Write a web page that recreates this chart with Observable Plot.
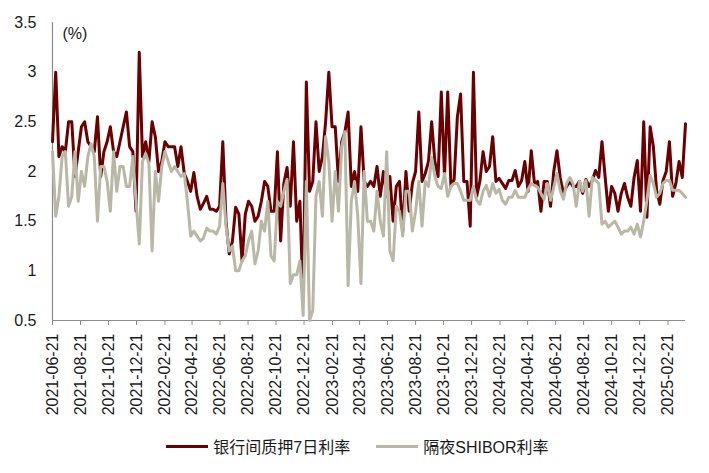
<!DOCTYPE html>
<html><head><meta charset="utf-8">
<script src="https://cdn.jsdelivr.net/npm/d3@7"></script>
<script src="https://cdn.jsdelivr.net/npm/@observablehq/plot@0.6"></script>
<style>
body{margin:0;background:#fff;font-family:"Liberation Sans",Arial,"Noto Sans CJK SC",sans-serif;}
#chart{width:709px;height:473px;position:relative;overflow:hidden}
#chart svg{display:block}
.legend{display:flex;justify-content:center;align-items:center;gap:26px;font-size:16px;color:#1a1a1a;height:36px;margin-top:0px;padding-left:6px}
.legend .item{display:flex;align-items:center;gap:5px}
.legend .sw{display:inline-block;width:42px;height:3px}
</style></head>
<body><div id="chart"></div>
<script>
const seriesNames = ["银行间质押7日利率", "隔夜SHIBOR利率"];
const seriesColors = ["#6a0000", "#b9b8a7"];
const startDate = "2021-06-21";
const endDate = "2025-03-31";
const unitLabel = "(%)";
const yTicks = [0.5, 1, 1.5, 2, 2.5, 3, 3.5];
const xTickLabels = ["2021-06-21","2021-08-21","2021-10-21","2021-12-21","2022-02-21","2022-04-21","2022-06-21","2022-08-21","2022-10-21","2022-12-21","2023-02-21","2023-04-21","2023-06-21","2023-08-21","2023-10-21","2023-12-21","2024-02-21","2024-04-21","2024-06-21","2024-08-21","2024-10-21","2024-12-21","2025-02-21"];

// weekly readings (Mondays from 2021-06-21)
const repo7 = [
2.3,3.0,2.15,2.25,2.2,2.5,2.5,1.95,2.2,2.45,
2.5,2.3,2.25,2.2,2.55,1.95,2.2,2.3,2.45,2.2,
2.15,2.3,2.45,2.6,2.25,2.2,1.6,3.2,2.15,2.3,
2.1,2.5,2.35,2.0,2.1,2.3,2.25,2.25,2.25,2.05,
2.25,1.98,1.9,1.8,1.99,1.75,1.62,1.68,1.75,1.62,
1.62,1.6,1.65,2.3,1.5,1.17,1.3,1.64,1.57,1.1,
1.57,1.7,1.65,1.5,1.55,1.7,1.9,1.85,1.6,1.6,
2.2,1.3,1.88,2.04,1.65,2.3,1.5,1.7,0.7,2.9,
1.8,1.9,2.5,2.0,2.15,2.5,3.0,2.45,2.45,1.9,
2.3,2.4,2.6,1.85,2.0,1.8,2.45,1.9,1.85,1.9,
1.85,2.05,1.75,2.0,1.75,1.95,1.5,1.85,1.9,1.4,
2.0,1.6,1.88,2.0,2.6,1.9,1.98,2.1,2.5,2.1,
1.95,2.8,1.95,2.8,1.85,1.92,2.55,2.78,1.9,1.9,
1.45,3.0,1.75,1.9,2.2,2.0,2.05,2.35,1.9,1.93,
1.88,1.83,1.91,1.91,2.01,1.85,1.91,2.1,1.8,2.21,
1.88,1.9,1.6,1.9,1.9,1.65,2.0,2.21,1.94,1.78,
1.85,1.9,1.85,1.85,1.9,1.78,1.92,1.85,1.91,2.01,
1.94,2.3,1.94,1.6,1.85,1.78,1.6,1.78,1.88,1.74,
1.65,1.94,2.11,1.6,2.5,1.54,2.45,2.25,1.81,1.67,
1.91,2.0,2.3,1.75,1.88,2.1,1.94,2.48
];
const shibor = [
2.2,1.55,1.75,2.15,2.2,1.65,1.75,2.2,1.7,2.0,
1.85,2.15,2.28,2.15,1.5,2.05,2.05,1.9,1.6,2.2,
1.8,2.05,2.05,1.85,1.85,2.15,1.7,1.27,2.1,2.18,
2.08,1.2,2.0,1.7,2.05,2.2,2.1,2.0,2.05,2.0,
1.95,1.98,1.7,1.35,1.4,1.35,1.3,1.33,1.43,1.4,
1.4,1.37,1.45,1.88,1.45,1.2,1.25,1.0,1.0,1.1,
1.15,1.3,1.4,1.07,1.2,1.5,1.4,1.7,1.15,1.1,
1.7,1.65,1.8,1.92,0.87,0.96,0.96,1.1,0.55,1.9,
0.5,0.6,1.75,1.9,1.55,2.35,2.1,1.5,2.0,1.6,
2.25,2.4,0.85,1.7,1.9,1.55,0.87,2.0,1.5,1.5,
1.4,1.8,1.5,1.35,2.2,1.2,1.1,1.65,1.6,1.35,
1.8,1.8,1.4,1.6,1.9,1.45,1.9,1.85,2.14,1.95,
1.85,1.83,1.98,1.75,1.85,1.88,1.88,1.8,1.71,1.71,
1.71,1.85,1.71,1.67,1.8,1.86,1.75,1.88,1.78,1.82,
1.71,1.67,1.74,1.74,1.81,1.74,1.74,1.74,1.82,1.88,
1.86,1.84,1.78,1.72,1.88,1.71,1.84,1.98,1.81,1.72,
1.88,1.94,1.88,1.65,1.9,1.8,1.91,1.55,1.94,1.91,
1.88,1.47,1.5,1.44,1.47,1.5,1.44,1.37,1.4,1.4,
1.44,1.37,1.47,1.34,1.5,1.71,1.96,1.88,1.74,1.78,
1.88,1.91,1.91,1.81,1.81,1.81,1.78,1.74
];

const weeks = d3.utcMonday.range(new Date(startDate), d3.utcDay.offset(new Date(endDate), 1));
const repoRows = weeks.map((d, i) => ({date: d, value: repo7[i]})).filter(r => r.value != null);
const shiborRows = weeks.map((d, i) => ({date: d, value: shibor[i]})).filter(r => r.value != null);
const xTickDates = xTickLabels.map(s => new Date(s));
const axisColor = "#8c8c8c";

const chart = Plot.plot({
  width: 709, height: 428,
  marginLeft: 52, marginRight: 24, marginTop: 22, marginBottom: 108,
  style: {fontFamily: '"Liberation Sans", Arial, sans-serif', fontSize: "16px", color: "#1a1a1a", background: "#fff", overflow: "visible"},
  x: {type: "utc", domain: [new Date(startDate), new Date(endDate)]},
  y: {domain: [0.5, 3.5]},
  marks: [
    Plot.axisY({ticks: yTicks, tickSize: 0, tickPadding: 16, tickFormat: d => String(d), fontSize: 16, label: null}),
    Plot.axisX({ticks: xTickDates, tickSize: 5, tickPadding: 8, tickRotate: -90, tickFormat: d3.utcFormat("%Y-%m-%d"), label: null, stroke: axisColor, fontSize: 16}),
    Plot.ruleX([new Date(startDate)], {stroke: axisColor, strokeWidth: 1.2}),
    Plot.ruleY([0.5], {stroke: axisColor, strokeWidth: 1.2}),
    Plot.lineY(repoRows, {x: "date", y: "value", stroke: seriesColors[0], strokeWidth: 3, strokeLinejoin: "round"}),
    Plot.lineY(shiborRows, {x: "date", y: "value", stroke: seriesColors[1], strokeWidth: 3, strokeLinejoin: "round"}),
    Plot.text([unitLabel], {frameAnchor: "top-left", dx: 10, dy: 5, textAnchor: "start", fontSize: 16, fill: "#1a1a1a"})
  ]
});
const root = document.getElementById("chart");
root.appendChild(chart);
const legend = document.createElement("div");
legend.className = "legend";
seriesNames.forEach((name, i) => {
  const item = document.createElement("div");
  item.className = "item";
  const sw = document.createElement("span");
  sw.className = "sw";
  sw.style.background = seriesColors[i];
  const t = document.createElement("span");
  t.textContent = name;
  item.appendChild(sw); item.appendChild(t);
  legend.appendChild(item);
});
root.appendChild(legend);
</script>
</body></html>
